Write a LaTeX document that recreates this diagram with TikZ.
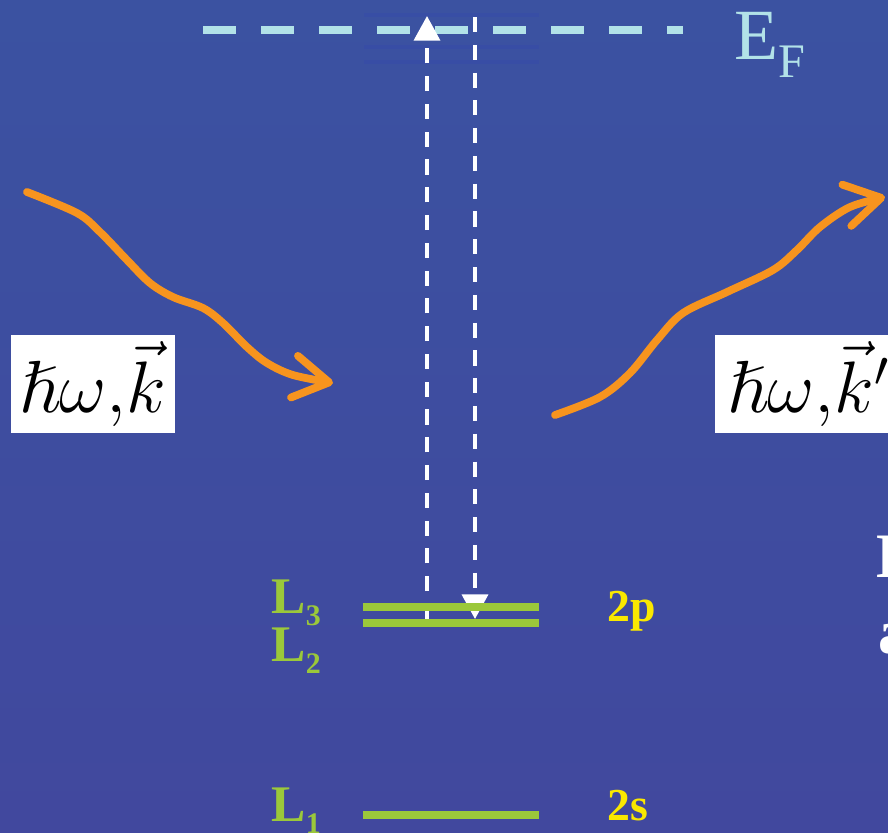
\documentclass[tikz,border=0pt]{standalone}
\usepackage{fontspec}
\setmainfont{Liberation Serif}
\usepackage{amsmath,amssymb}
\usetikzlibrary{arrows.meta}
\definecolor{slideblue}{RGB}{59,82,161}
\definecolor{slidebluedark}{RGB}{65,72,158}
\definecolor{fermiblue}{RGB}{178,226,232}
\definecolor{levelgreen}{RGB}{155,200,58}
\definecolor{orbyellow}{RGB}{250,232,0}
\definecolor{photonorange}{RGB}{247,148,30}

\begin{document}
\begin{tikzpicture}[x=0.01cm,y=-0.01cm,
    fermi/.style={line width=2.3pt,fermiblue,dash pattern=on 9.4pt off 7.1pt},
    level/.style={line width=2.3pt,levelgreen},
    jump/.style={white,line width=1pt,dash pattern=on 4.3pt off 3.6pt,-{Triangle[length=7pt,width=7.4pt]}},
    photon/.style={photonorange,line width=2.2pt,line cap=round,-{Straight Barb[length=10pt,width=12pt,round]}},
    kbox/.style={fill=white,text=black,inner ysep=0pt,minimum height=0.98cm,font=\fontsize{21pt}{24pt}\selectfont},
    lbl/.style={levelgreen,inner sep=0pt,anchor=base west,font=\fontsize{14.6pt}{17pt}\selectfont\bfseries},
    orb/.style={orbyellow,inner sep=0pt,anchor=base west,font=\fontsize{13pt}{15pt}\selectfont\bfseries}]
        \useasboundingbox (0,0) rectangle (888,832);
        \clip (0,0) rectangle (888,832);
        \shade[top color=slideblue,bottom color=slidebluedark] (0,0) rectangle (888,832);

        % Fermi level
        \foreach \y in {15,47,62}
            \draw[line width=1.4pt,slideblue!80!blue,opacity=0.22] (364,\y) -- (539,\y);
        \draw[fermi] (203,30) -- (683,30);
        \node[anchor=base west,inner sep=0pt,fermiblue,font=\fontsize{20.5pt}{24pt}\selectfont] (ef) at (734,59) {E\raisebox{-0.18cm}{\fontsize{13.7pt}{16pt}\selectfont F}};

        % transitions
        \coordinate (upS) at (427,619);
        \coordinate (upE) at (427,16);
        \coordinate (dnS) at (475,17);
        \coordinate (dnE) at (475,619);
        \draw[jump] (upS) -- (upE);
        \draw[jump] (dnS) -- (dnE);

        % core levels
        \draw[level] (363,607) -- (539,607);
        \draw[level] (363,623) -- (539,623);
        \draw[level] (363,815) -- (539,815);
        \node[lbl] (l3) at (271,613) {L\raisebox{-0.12cm}{\fontsize{8.5pt}{10pt}\selectfont 3}};
        \node[lbl] (l2) at (271,661) {L\raisebox{-0.12cm}{\fontsize{8.5pt}{10pt}\selectfont 2}};
        \node[lbl] (l1) at (271,821) {L\raisebox{-0.12cm}{\fontsize{8.5pt}{10pt}\selectfont 1}};
        \node[orb] (p2) at (607,621) {2p};
        \node[orb] (s2) at (607,820) {2s};

        % photons in and out
        \draw[photon] plot[smooth,tension=0.55] coordinates {(27,192) (77,213) (100,232) (127,260) (150,283) (173,297) (203,308) (223,323) (247,347) (267,363) (293,375) (333,383)};
        \draw[photon] plot[smooth,tension=0.55] coordinates {(555,415) (600,397) (630,373) (657,340) (683,313) (727,292) (773,270) (797,250) (820,227) (850,207) (885,197)};
        \node[kbox,minimum width=1.64cm,inner xsep=0pt] (kin) at (93,384) {$\hslash\omega{,}\vec{k}$};
        \node[kbox,anchor=west,inner xsep=0.13cm] (kout) at (714,384) {$\hslash\omega{,}\vec{k}'$\hspace{0.3cm}};

        % cut off text at the right edge
        \node[white,inner sep=0pt,anchor=base west,font=\fontsize{18pt}{20pt}\selectfont\bfseries] (txa) at (876,577) {E};
        \node[white,inner sep=0pt,anchor=base west,font=\fontsize{18pt}{20pt}\selectfont\bfseries] (txb) at (878,653) {a};
\end{tikzpicture}
\end{document}
